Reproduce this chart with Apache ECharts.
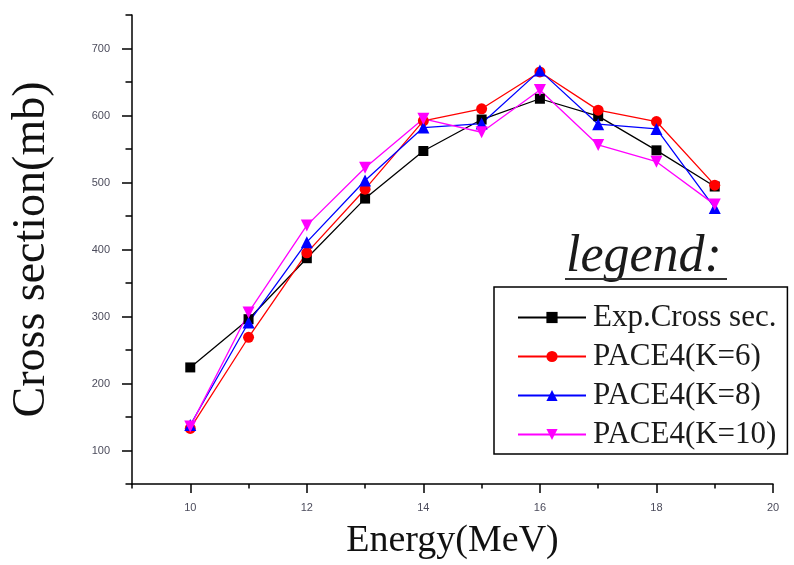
<!DOCTYPE html>
<html>
<head>
<meta charset="utf-8">
<script src="https://cdn.jsdelivr.net/npm/echarts@6/dist/echarts.min.js"></script>
<style>
  html, body { margin: 0; padding: 0; background: #fff; }
  #container { width: 794px; height: 565px; }
</style>
</head>
<body>
<div id="container"></div>
<script>
// energies (MeV)
var energy = [10, 11, 12, 13, 14, 15, 16, 17, 18, 19];
// cross sections (mb)
var expCross = [224, 296, 387, 476, 547, 594, 625, 599, 548, 494];
var paceK6  = [133, 269, 395, 490, 592, 610, 665, 608, 591, 496];
var paceK8  = [138, 291, 411, 503, 582, 588, 667, 587, 580, 462];
var paceK10 = [136, 306, 436, 522, 595, 575, 638, 556, 531, 467];

var seriesNames = ['Exp.Cross sec.', 'PACE4(K=6)', 'PACE4(K=8)', 'PACE4(K=10)'];

var xMajor = [10, 12, 14, 16, 18, 20];
var xMinor = [9, 11, 13, 15, 17, 19];
var yMajor = [100, 200, 300, 400, 500, 600, 700];
var yMinor = [50, 150, 250, 350, 450, 550, 650, 750];

function pairs(ys) {
    var out = [];
    for (var i = 0; i < energy.length; i++) out.push([energy[i], ys[i]]);
    return out;
}

var tickFont = { color: '#4c4c5c', fontSize: 11, fontFamily: 'Liberation Sans' };

var myChart = echarts.init(document.getElementById('container'));
myChart.setOption({
    animation: false,
    grid: { left: 132, right: 21, top: 15, bottom: 77 },
    xAxis: [{
        type: 'value', min: 9, max: 20, position: 'bottom',
        name: 'Energy(MeV)', nameLocation: 'middle', nameGap: 38,
        nameTextStyle: { fontFamily: 'Liberation Serif', fontSize: 38, color: '#111' },
        axisLine: { lineStyle: { color: '#000', width: 1.5 } },
        axisTick: { customValues: xMajor, length: 9, lineStyle: { color: '#000', width: 1.5 } },
        axisLabel: Object.assign({ customValues: xMajor, margin: 18 }, tickFont),
        splitLine: { show: false }
    }, {
        type: 'value', min: 9, max: 20, position: 'bottom', offset: 0,
        axisLine: { show: false },
        axisTick: { customValues: xMinor, length: 4.5, lineStyle: { color: '#000', width: 1.5 } },
        axisLabel: { show: false },
        splitLine: { show: false }
    }],
    yAxis: [{
        type: 'value', min: 50, max: 750, position: 'left',
        name: 'Cross section(mb)', nameLocation: 'middle', nameGap: 77,
        nameTextStyle: { fontFamily: 'Liberation Serif', fontSize: 46, color: '#111' },
        axisLine: { show: true, lineStyle: { color: '#000', width: 1.5 } },
        axisTick: { show: true, customValues: yMajor, length: 10, lineStyle: { color: '#000', width: 1.5 } },
        axisLabel: Object.assign({ customValues: yMajor, margin: 22 }, tickFont),
        splitLine: { show: false }
    }, {
        type: 'value', min: 50, max: 750, position: 'left', offset: 0,
        axisLine: { show: false },
        axisTick: { show: true, customValues: yMinor, length: 6.5, lineStyle: { color: '#000', width: 1.5 } },
        axisLabel: { show: false },
        splitLine: { show: false }
    }],
    legend: {
        orient: 'vertical',
        left: 494, top: 287,
        padding: [15, 11, 4, 23],
        itemGap: 8,
        itemWidth: 68,
        itemHeight: 14,
        borderColor: '#000',
        borderWidth: 1.5,
        textStyle: { fontFamily: 'Liberation Serif', fontSize: 31, lineHeight: 30, color: '#1a1a1a', padding: [0, 0, 0, 2] },
        data: seriesNames
    },
    graphic: [{
        type: 'text', left: 566, top: 231,
        style: { text: 'legend:', font: 'italic 52px "Liberation Serif"', fill: '#1a1a1a' }
    }, {
        type: 'line',
        shape: { x1: 565, y1: 279, x2: 727, y2: 279 },
        style: { stroke: '#333', lineWidth: 2 }
    }],
    series: [{
        name: seriesNames[0], type: 'line', data: pairs(expCross),
        symbol: 'rect', symbolSize: 10,
        lineStyle: { color: '#000', width: 1.3 }, itemStyle: { color: '#000' }
    }, {
        name: seriesNames[1], type: 'line', data: pairs(paceK6),
        symbol: 'circle', symbolSize: 11,
        lineStyle: { color: '#ff0000', width: 1.3 }, itemStyle: { color: '#ff0000' }
    }, {
        name: seriesNames[2], type: 'line', data: pairs(paceK8),
        symbol: 'triangle', symbolSize: 12,
        lineStyle: { color: '#0000ff', width: 1.3 }, itemStyle: { color: '#0000ff' }
    }, {
        name: seriesNames[3], type: 'line', data: pairs(paceK10),
        symbol: 'triangle', symbolSize: 12, symbolRotate: 180,
        lineStyle: { color: '#ff00ff', width: 1.3 }, itemStyle: { color: '#ff00ff' }
    }]
});
</script>
</body>
</html>
